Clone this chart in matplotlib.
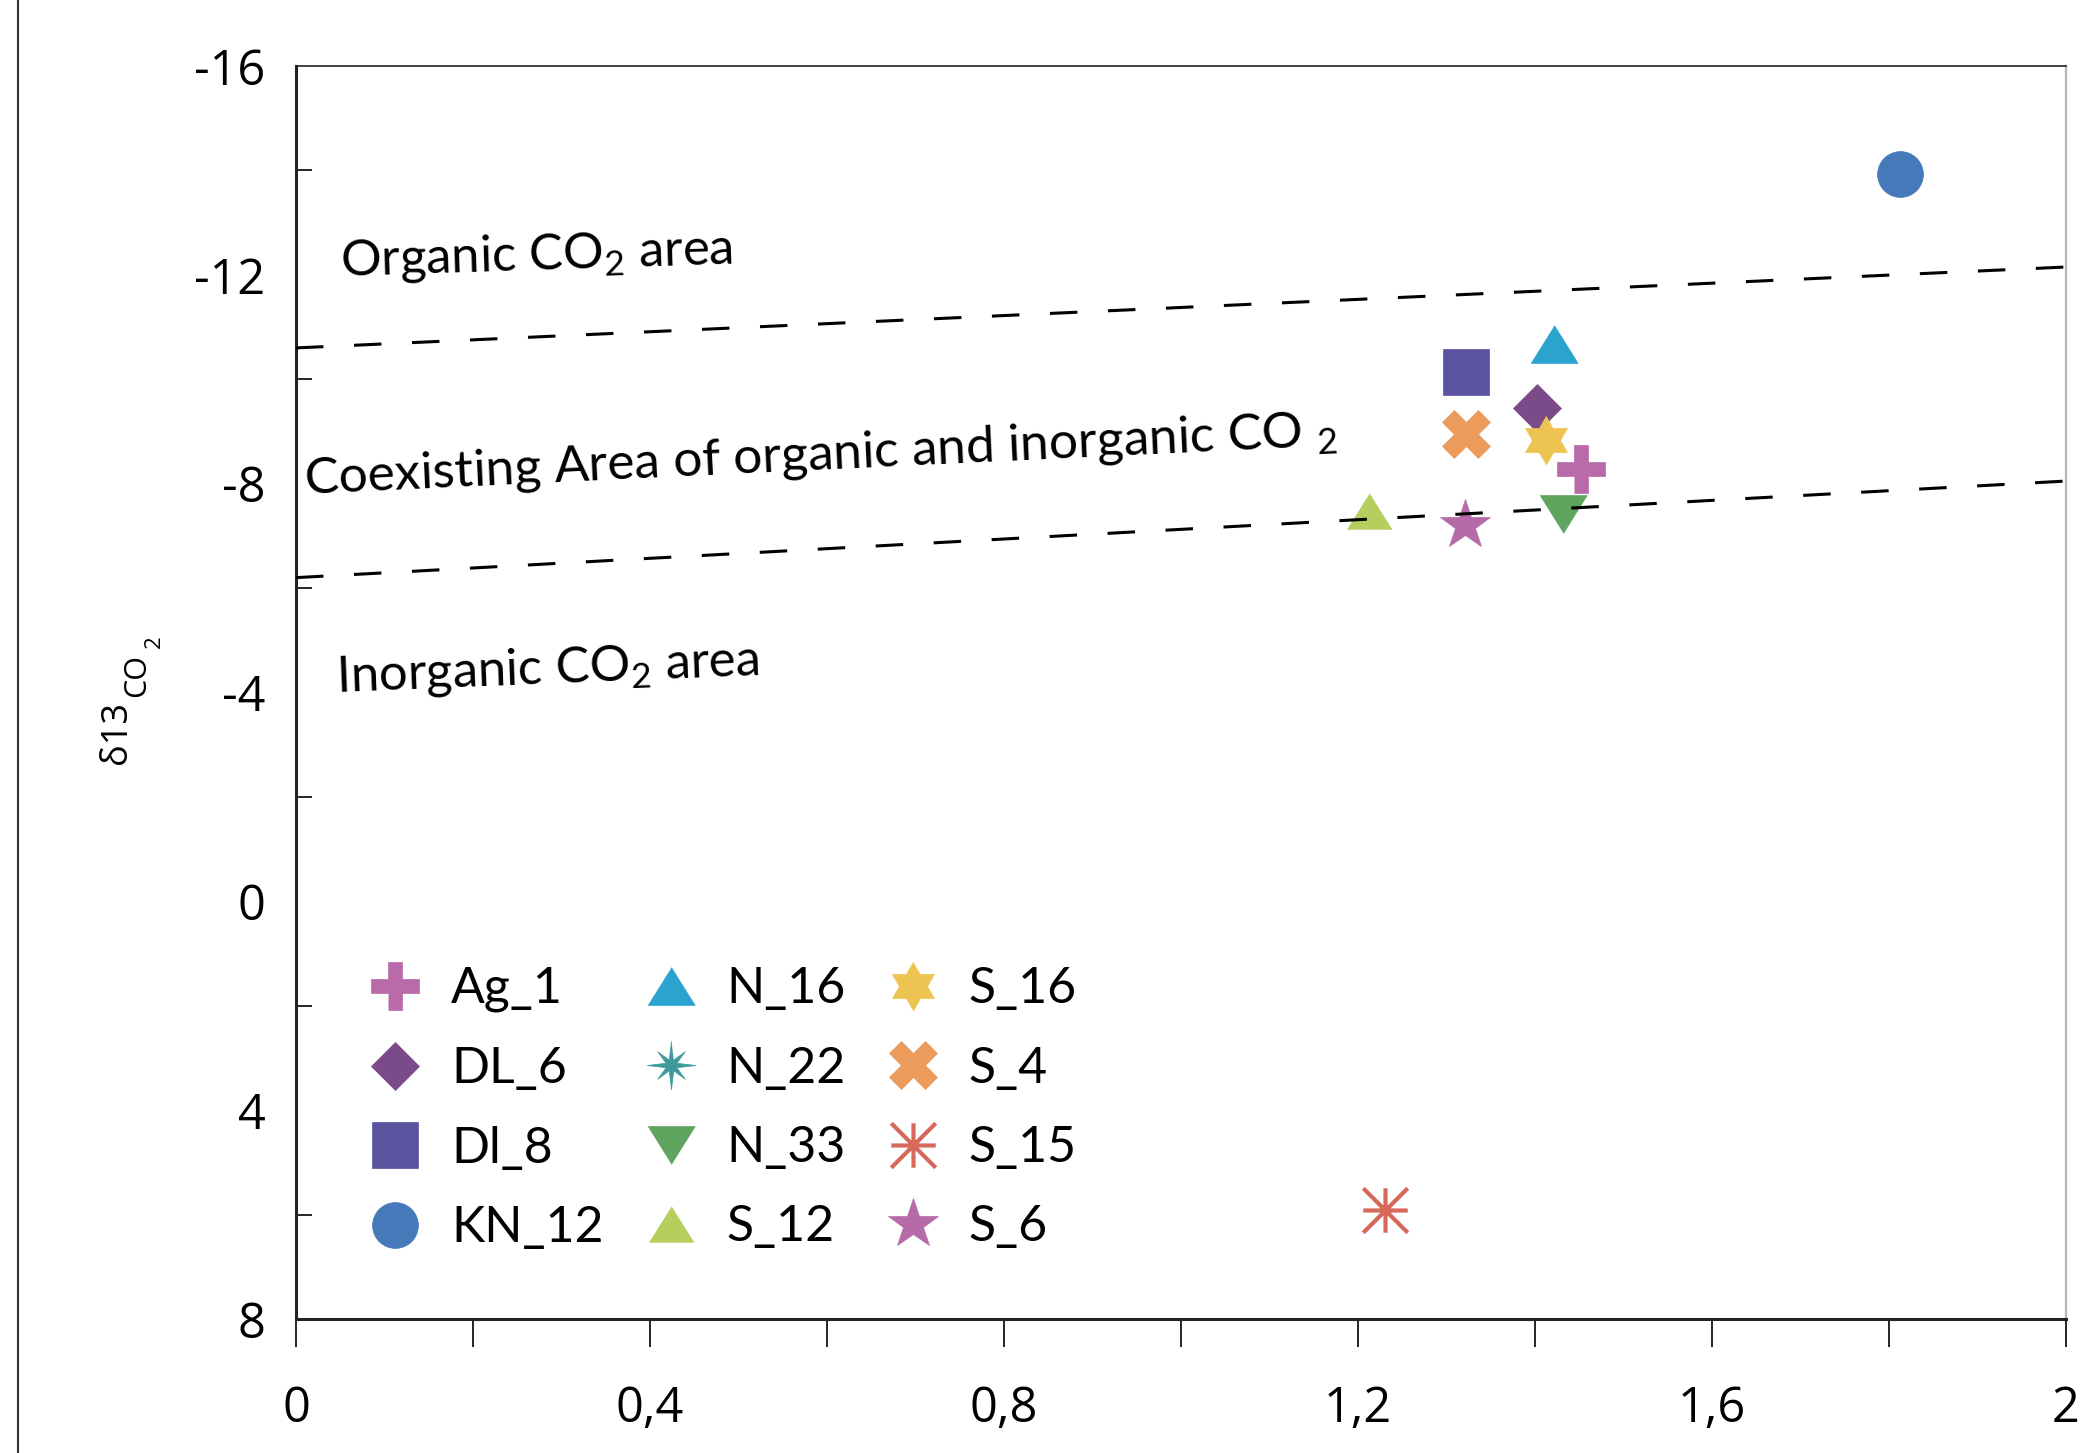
import numpy as np
import matplotlib
matplotlib.use("Agg")
import matplotlib.pyplot as plt
from matplotlib.lines import Line2D
from matplotlib.path import Path
from matplotlib.font_manager import FontProperties

# ---- sample data -------------------------------------------------------
samples = ["Ag_1", "DL_6", "Dl_8", "KN_12", "N_16", "N_22",
           "N_33", "S_12", "S_16", "S_4", "S_15", "S_6"]
x_values = [1.452, 1.402, 1.322, 1.812, 1.421, None,
            1.432, 1.212, 1.412, 1.322, 1.230, 1.321]
d13c_values = [-8.29, -9.45, -10.14, -13.93, -10.68, None,
               -7.42, -7.48, -8.84, -8.95, 5.91, -7.20]
colors = ["#B86BA8", "#7B4A88", "#5953A0", "#4679B9", "#2AA3CF", "#3F999C",
          "#5FA45F", "#B5CE5D", "#EDC452", "#EB9B5C", "#D6695B", "#B46BA8"]

# boundary lines (x, delta13C at both ends)
boundary_x = [0.0, 2.0]
organic_boundary = [-10.6, -12.15]
inorganic_boundary = [-6.2, -8.05]

x_ticks = [0, 0.4, 0.8, 1.2, 1.6, 2.0]
x_tick_labels = ["0", "0,4", "0,8", "1,2", "1,6", "2"]
x_minor_ticks = [0.2, 0.6, 1.0, 1.4, 1.8]
y_ticks = [-16, -12, -8, -4, 0, 4, 8]
y_tick_labels = ["-16", "-12", "-8", "-4", "0", "4", "8"]
y_minor_ticks = [-14, -10, -6, -2, 2, 6]

# ---- marker shapes -----------------------------------------------------
def hexagram():
    pts = []
    for k in range(12):
        ang = np.pi / 2 + k * np.pi / 6
        r = 1.0 if k % 2 == 0 else 1 / np.sqrt(3)
        pts.append((r * np.cos(ang), r * np.sin(ang)))
    return pts

def thin_star8():
    pts = []
    for k in range(16):
        ang = np.pi / 2 + k * np.pi / 8
        if k % 2 == 0:
            r = 1.0 if (k // 2) % 2 == 0 else 0.8
        else:
            r = 0.24
        pts.append((r * np.cos(ang), r * np.sin(ang)))
    return pts

def spokes8():
    verts, codes = [], []
    for (dx, dy) in [(0, 1), (1, 0), (1, 1), (1, -1)]:
        verts += [(-dx, -dy), (dx, dy)]
        codes += [Path.MOVETO, Path.LINETO]
    return Path(verts, codes)

t = 0.28
plus_verts = [(-t, -1), (t, -1), (t, -t), (1, -t), (1, t), (t, t), (t, 1),
              (-t, 1), (-t, t), (-1, t), (-1, -t), (-t, -t)]
tri_up = [(-1, -0.8), (1, -0.8), (0, 0.8)]
tri_down = [(-1, 0.8), (1, 0.8), (0, -0.8)]

styles = {
    "Ag_1": dict(marker=plus_verts, ms=34),
    "DL_6": dict(marker="D", ms=24),
    "Dl_8": dict(marker="s", ms=33),
    "KN_12": dict(marker="o", ms=33),
    "N_16": dict(marker=tri_up, ms=34),
    "N_22": dict(marker=thin_star8(), ms=35),
    "N_33": dict(marker=tri_down, ms=34),
    "S_12": dict(marker=tri_up, ms=32),
    "S_16": dict(marker=hexagram(), ms=35),
    "S_4": dict(marker="X", ms=34),
    "S_15": dict(marker=spokes8(), ms=32, line=True),
    "S_6": dict(marker="*", ms=38),
}

# ---- figure ------------------------------------------------------------
plt.rcParams["axes.unicode_minus"] = False

W, H = 2081, 1453
fig = plt.figure(figsize=(W / 100, H / 100), dpi=100)
ax = fig.add_axes([296 / W, 1 - 1319 / H, (2066 - 296) / W, (1319 - 66) / H])

tick_font = FontProperties(family="Open Sans", size=35)
text_font = "Lato"

handles = []
for name, xv, yv, c in zip(samples, x_values, d13c_values, colors):
    st = styles[name]
    xs = [] if xv is None else [xv]
    ys = [] if yv is None else [yv]
    if st.get("line"):
        h, = ax.plot(xs, ys, linestyle="none", marker=st["marker"], ms=st["ms"],
                     markerfacecolor="none", markeredgecolor=c, markeredgewidth=3.0,
                     zorder=2, clip_on=False)
    else:
        h, = ax.plot(xs, ys, linestyle="none", marker=st["marker"], ms=st["ms"],
                     markerfacecolor=c, markeredgecolor=c, markeredgewidth=0.5,
                     zorder=2, clip_on=False)
    handles.append(h)

# dashed boundaries between the CO2 source areas
for yb in (organic_boundary, inorganic_boundary):
    ax.plot(boundary_x, yb, color="black", lw=2.2, linestyle=(0, (9, 10)),
            zorder=3, clip_on=False)

ax.set_xlim(0, 2)
ax.set_ylim(8, -16)

ax.set_xticks(x_ticks)
ax.set_xticklabels(x_tick_labels, fontproperties=tick_font)
ax.set_xticks(x_minor_ticks, minor=True)
ax.tick_params(axis="x", which="both", direction="out", length=20, width=1.2,
               color="black", pad=27)
ax.set_yticks(y_ticks)
ax.set_yticklabels(y_tick_labels, fontproperties=tick_font)
ax.set_yticks(y_minor_ticks, minor=True)
ax.tick_params(axis="y", which="major", length=0, pad=22)
ax.tick_params(axis="y", which="minor", direction="in", length=11.5, width=1.2,
               color="black")

ax.spines["left"].set_linewidth(2.2)
ax.spines["left"].set_color("#222222")
ax.spines["bottom"].set_linewidth(2.2)
ax.spines["bottom"].set_color("#222222")
ax.spines["top"].set_linewidth(1.2)
ax.spines["top"].set_color("#222222")
ax.spines["right"].set_linewidth(1.6)
ax.spines["right"].set_color("#B4B4B4")

# y-axis title: δ13 followed by the lowered "CO" and its "2"
def fig_px(x, y):
    return x / W, 1 - y / H

for txt, (px, py), size in [("δ13", (126, 764), 26),
                            ("CO", (145, 697), 22),
                            ("2", (160, 648), 16)]:
    fx, fy = fig_px(px, py)
    fig.text(fx, fy, txt, family="Open Sans", fontsize=size, rotation=90,
             rotation_mode="anchor", ha="left", va="baseline")

# area labels
ax.text(0.050, -11.98, r"Organic CO$_\mathregular{2}$ area", family=text_font,
        fontsize=36.5, rotation=1.8, rotation_mode="anchor", ha="left", va="baseline")
ax.text(0.009, -7.82, r"Coexisting Area of organic and inorganic CO $_\mathregular{2}$",
        family=text_font, fontsize=37, rotation=2.7, rotation_mode="anchor",
        ha="left", va="baseline")
ax.text(0.046, -4.01, r"Inorganic CO$_\mathregular{2}$ area", family=text_font,
        fontsize=36.5, rotation=2.3, rotation_mode="anchor", ha="left", va="baseline")

ax.legend(handles, samples, ncol=3, frameon=False,
          prop=FontProperties(family=text_font, size=36),
          loc="upper left", bbox_to_anchor=(370 / W, 1 - 966 / H),
          bbox_transform=fig.transFigure, borderpad=0, borderaxespad=0,
          handlelength=1.0, handletextpad=0.62, columnspacing=0.84,
          labelspacing=0.67, markerscale=1.0)

# outer frame edge on the left
fig.add_artist(Line2D([18 / W, 18 / W], [0, 1], transform=fig.transFigure,
                      color="#333333", lw=1.5))

fig.savefig("out.png", dpi=100, facecolor="white")
